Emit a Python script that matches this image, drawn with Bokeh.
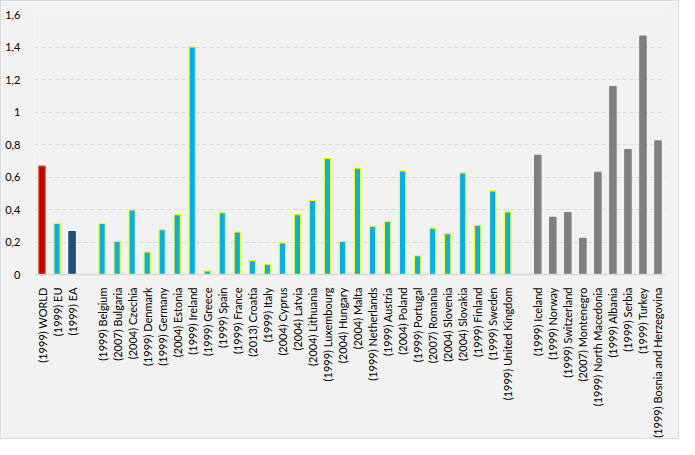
from bokeh.plotting import figure
from bokeh.models import FactorRange, ColumnDataSource, FixedTicker, CustomJSTickFormatter
from bokeh.embed import file_html
from bokeh.resources import INLINE
from math import pi

categories = [
    "(1999) WORLD", "(1999) EU", "(1999) EA", " ",
    "(1999) Belgium", "(2007) Bulgaria", "(2004) Czechia", "(1999) Denmark",
    "(1999) Germany", "(2004) Estonia", "(1999) Ireland", "(1999) Greece",
    "(1999) Spain", "(1999) France", "(2013) Croatia", "(1999) Italy",
    "(2004) Cyprus", "(2004) Latvia", "(2004) Lithuania", "(1999) Luxembourg",
    "(2004) Hungary", "(2004) Malta", "(1999) Netherlands", "(1999) Austria",
    "(2004) Poland", "(1999) Portugal", "(2007) Romania", "(2004) Slovenia",
    "(2004) Slovakia", "(1999) Finland", "(1999) Sweden", "(1999) United Kingdom",
    "  ",
    "(1999) Iceland", "(1999) Norway", "(1999) Switzerland", "(2007) Montenegro",
    "(1999) North Macedonia", "(1999) Albania", "(1999) Serbia", "(1999) Turkey",
    "(1999) Bosnia and Herzegovina",
]
values = [
    0.667, 0.315, 0.264, 0.0,
    0.315, 0.204, 0.397, 0.139,
    0.276, 0.368, 1.400, 0.022,
    0.380, 0.262, 0.086, 0.063,
    0.195, 0.368, 0.456, 0.714,
    0.204, 0.655, 0.297, 0.327,
    0.638, 0.116, 0.286, 0.251,
    0.626, 0.303, 0.515, 0.386,
    0.0,
    0.733, 0.352, 0.381, 0.223,
    0.628, 1.156, 0.769, 1.467,
    0.822,
]
groups = (["world", "eu", "ea", "gap"] + ["member"] * 28 + ["gap"] + ["other"] * 9)

fill_map = {"world": "#C00000", "eu": "#00B0F0", "ea": "#1F4E79",
            "member": "#00B0F0", "other": "#7F7F7F", "gap": "#F2F2F2"}
line_map = {"world": "#C55A11", "eu": "#FFFF00", "ea": "#1F4E79",
            "member": "#FFFF00", "other": "#7F7F7F", "gap": "#F2F2F2"}

mask = [g != "gap" for g in groups]
src = ColumnDataSource(dict(
    x=[c for c, m in zip(categories, mask) if m],
    top=[v for v, m in zip(values, mask) if m],
    fill=[fill_map[g] for g, m in zip(groups, mask) if m],
    line=[line_map[g] for g, m in zip(groups, mask) if m],
))

p = figure(x_range=FactorRange(*categories, range_padding=0), y_range=(0, 1.6),
           width=679, height=439, output_backend="svg", toolbar_location=None,
           min_border_left=33, min_border_right=15, min_border_top=13, min_border_bottom=7)

p.vbar(x="x", top="top", width=0.42, source=src, fill_color="fill",
       line_color="line", line_width=1.2)

p.background_fill_color = "#F2F2F2"
p.border_fill_color = "#F2F2F2"
p.outline_line_color = None
p.styles = {"border": "1px solid #D9D9D9", "box-sizing": "border-box"}

p.xgrid.grid_line_color = None
p.ygrid.grid_line_color = "#D9D9D9"
p.ygrid.grid_line_dash = "4 3"
p.ygrid.grid_line_width = 1

p.yaxis.ticker = FixedTicker(ticks=[0, 0.2, 0.4, 0.6, 0.8, 1.0, 1.2, 1.4, 1.6])
p.yaxis.formatter = CustomJSTickFormatter(code="""
let s = tick.toFixed(1).replace('.', ',');
if (s.endsWith(',0')) { s = s.slice(0, -2); }
return s;
""")
p.yaxis.axis_line_color = None
p.yaxis.major_tick_line_color = None
p.yaxis.minor_tick_line_color = None
p.yaxis.major_label_standoff = 8

p.xaxis.axis_line_color = "#D9D9D9"
p.xaxis.axis_line_width = 1.5
p.xaxis.major_tick_line_color = None
p.xaxis.minor_tick_line_color = None
p.xaxis.major_label_orientation = pi / 2
p.xaxis.major_label_standoff = 7

for ax in (p.xaxis, p.yaxis):
    ax.major_label_text_font = "Lato"
    ax.major_label_text_font_size = "11px"
    ax.major_label_text_color = "#000000"

open("out.html", "w").write(file_html(p, INLINE))
